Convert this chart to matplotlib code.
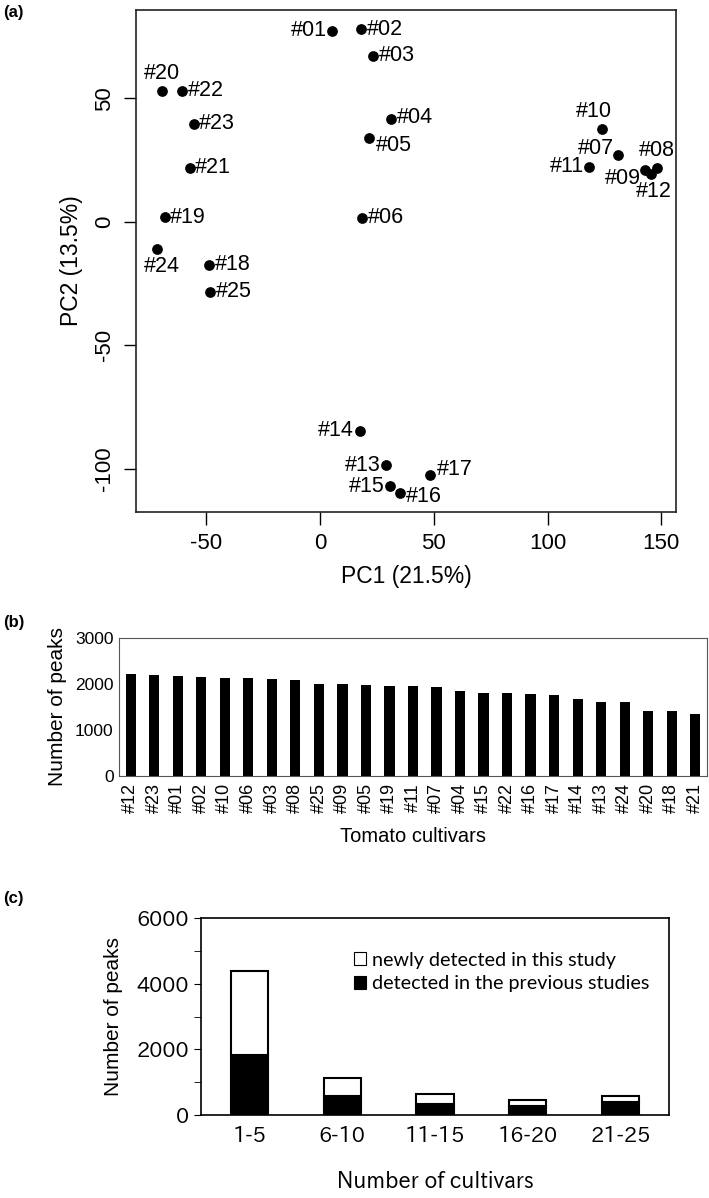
import matplotlib
matplotlib.use('Agg')
import matplotlib.pyplot as plt
from matplotlib.patches import Patch

# PCA scores (panel a)
pca_ids = ['#01', '#02', '#03', '#04', '#05', '#06', '#07', '#08', '#09', '#10',
           '#11', '#12', '#13', '#14', '#15', '#16', '#17', '#18', '#19', '#20',
           '#21', '#22', '#23', '#24', '#25']
pc1 = [5.4, 18.0, 23.4, 31.3, 21.4, 18.4, 131.1, 148.1, 142.7, 123.8,
       118.4, 145.5, 29.1, 17.4, 30.9, 35.1, 48.5, -48.7, -68.3, -69.5,
       -57.3, -60.7, -55.5, -71.5, -48.3]
pc2 = [77.4, 78.1, 67.2, 41.6, 33.9, 1.6, 26.9, 21.8, 20.9, 37.8,
       22.4, 19.3, -98.6, -84.6, -107.0, -109.7, -102.6, -17.3, 1.8, 53.1,
       21.9, 53.2, 39.7, -10.9, -28.2]

# peaks per cultivar (panel b)
cultivars = ['#12', '#23', '#01', '#02', '#10', '#06', '#03', '#08', '#25', '#09',
             '#05', '#19', '#11', '#07', '#04', '#15', '#22', '#16', '#17', '#14',
             '#13', '#24', '#20', '#18', '#21']
n_peaks = [2207, 2186, 2171, 2157, 2121, 2121, 2100, 2079, 2000, 1993,
           1979, 1964, 1964, 1943, 1850, 1800, 1800, 1786, 1757, 1671,
           1614, 1614, 1407, 1407, 1343]

# peaks shared by number of cultivars (panel c)
groups = ['1-5', '6-10', '11-15', '16-20', '21-25']
previous = [1824, 580, 342, 270, 394]
total = [4386, 1140, 653, 446, 591]
newly = [t - p for t, p in zip(total, previous)]

plt.rcParams['axes.unicode_minus'] = False
ARIAL = ['Liberation Sans', 'DejaVu Sans']
GOTHIC = ['IPAPGothic', 'Liberation Sans', 'DejaVu Sans']
CALIBRI = ['Lato', 'DejaVu Sans']

# label placement for the PCA points: (dx, dy) in points, ha, va
place = {
    '#01': (-4, 0, 'right', 'center'), '#02': (4, 0, 'left', 'center'),
    '#03': (4, 0, 'left', 'center'), '#04': (4, 1, 'left', 'center'),
    '#05': (5, -5, 'left', 'center'), '#06': (4, 0, 'left', 'center'),
    '#07': (-3, 5, 'right', 'center'), '#08': (0, 5, 'center', 'bottom'),
    '#09': (-3, -6, 'right', 'center'), '#10': (-6, 5, 'center', 'bottom'),
    '#11': (-4, 0, 'right', 'center'), '#12': (2, -5, 'center', 'top'),
    '#13': (-4, 0, 'right', 'center'), '#14': (-4, 0, 'right', 'center'),
    '#15': (-4, 0, 'right', 'center'), '#16': (4, -3, 'left', 'center'),
    '#17': (5, 4, 'left', 'center'), '#18': (4, 0, 'left', 'center'),
    '#19': (4, 0, 'left', 'center'), '#20': (0, 5, 'center', 'bottom'),
    '#21': (4, 0, 'left', 'center'), '#22': (4, 0, 'left', 'center'),
    '#23': (4, 0, 'left', 'center'), '#24': (3, -5, 'center', 'top'),
    '#25': (4, 0, 'left', 'center'),
}

fig = plt.figure(figsize=(7.09, 11.98), dpi=100)

# (a) PCA
ax = fig.add_axes([0.192, 0.5726, 0.762, 0.419])
ax.scatter(pc1, pc2, s=45, c='black', zorder=3)
for name, x, y in zip(pca_ids, pc1, pc2):
    dx, dy, ha, va = place[name]
    ax.annotate(name, (x, y), xytext=(dx, dy), textcoords='offset points',
                ha=ha, va=va, fontsize=15.5, family=ARIAL)
ax.set_xlim(-80.8, 156.6)
ax.set_ylim(-117.5, 85.8)
ax.set_xticks([-50, 0, 50, 100, 150])
ax.set_yticks([-100, -50, 0, 50])
ax.tick_params(length=9, width=1, direction='out', labelsize=16, pad=6)
for t in ax.get_xticklabels() + ax.get_yticklabels():
    t.set_family(ARIAL)
for t in ax.get_yticklabels():
    t.set_rotation(90)
    t.set_va('center')
ax.set_xlabel('PC1 (21.5%)', fontsize=16.5, family=ARIAL, labelpad=8)
ax.set_ylabel('PC2 (13.5%)', fontsize=16.5, family=ARIAL, labelpad=8)
for s in ax.spines.values():
    s.set_linewidth(1.2)
    s.set_color('#222222')

# (b) peaks per cultivar
ax = fig.add_axes([0.168, 0.3523, 0.829, 0.1152])
ax.bar(range(len(cultivars)), n_peaks, width=0.43, color='black')
ax.set_xlim(-0.5, len(cultivars) - 0.5)
ax.set_ylim(0, 3000)
ax.set_yticks([0, 1000, 2000, 3000])
ax.set_xticks(range(len(cultivars)))
ax.set_xticklabels(cultivars, rotation=90, fontsize=13, family=ARIAL)
ax.tick_params(length=0, pad=5)
ax.tick_params(axis='y', labelsize=12.5, pad=4)
for t in ax.get_yticklabels():
    t.set_family(ARIAL)
ax.set_xlabel('Tomato cultivars', fontsize=14.5, family=ARIAL, labelpad=10)
ax.set_ylabel('Number of peaks', fontsize=15, family=ARIAL, labelpad=6)
for s in ax.spines.values():
    s.set_color('#555555')

# (c) peaks by number of cultivars
ax = fig.add_axes([0.2835, 0.0693, 0.660, 0.1644])
xs = range(len(groups))
ax.bar(xs, previous, width=0.4, color='black', edgecolor='black', linewidth=1.5)
ax.bar(xs, newly, width=0.4, bottom=previous, color='white', edgecolor='black',
       linewidth=1.5)
ax.set_xlim(-0.52, len(groups) - 0.48)
ax.set_ylim(0, 6000)
ax.set_yticks([0, 2000, 4000, 6000])
ax.set_yticks([1000, 3000, 5000], minor=True)
ax.tick_params(axis='y', which='both', length=5, direction='out', labelsize=15)
ax.set_xticks(list(xs))
ax.set_xticklabels(groups, fontsize=15, family=GOTHIC)
ax.tick_params(axis='x', length=0, pad=8)
for t in ax.get_yticklabels():
    t.set_family(GOTHIC)
ax.set_xlabel('Number of cultivars', fontsize=15.5, family=GOTHIC, labelpad=18)
ax.set_ylabel('Number of peaks', fontsize=15, family=ARIAL, labelpad=10)
handles = [Patch(facecolor='white', edgecolor='black', linewidth=0.8),
           Patch(facecolor='black', edgecolor='black', linewidth=0.8)]
ax.legend(handles, ['newly detected in this study', 'detected in the previous studies'],
          loc='upper left', bbox_to_anchor=(0.29, 0.92), frameon=False,
          handlelength=0.6, handleheight=0.6, handletextpad=0.3, labelspacing=0.35,
          prop={'family': CALIBRI, 'size': 14.2})
for s in ax.spines.values():
    s.set_linewidth(1.2)

fig.text(0.004, 0.986, '(a)', fontsize=12, weight='bold', family=ARIAL)
fig.text(0.004, 0.477, '(b)', fontsize=12, weight='bold', family=ARIAL)
fig.text(0.004, 0.246, '(c)', fontsize=12, weight='bold', family=ARIAL)

fig.savefig('out.png', dpi=100)
